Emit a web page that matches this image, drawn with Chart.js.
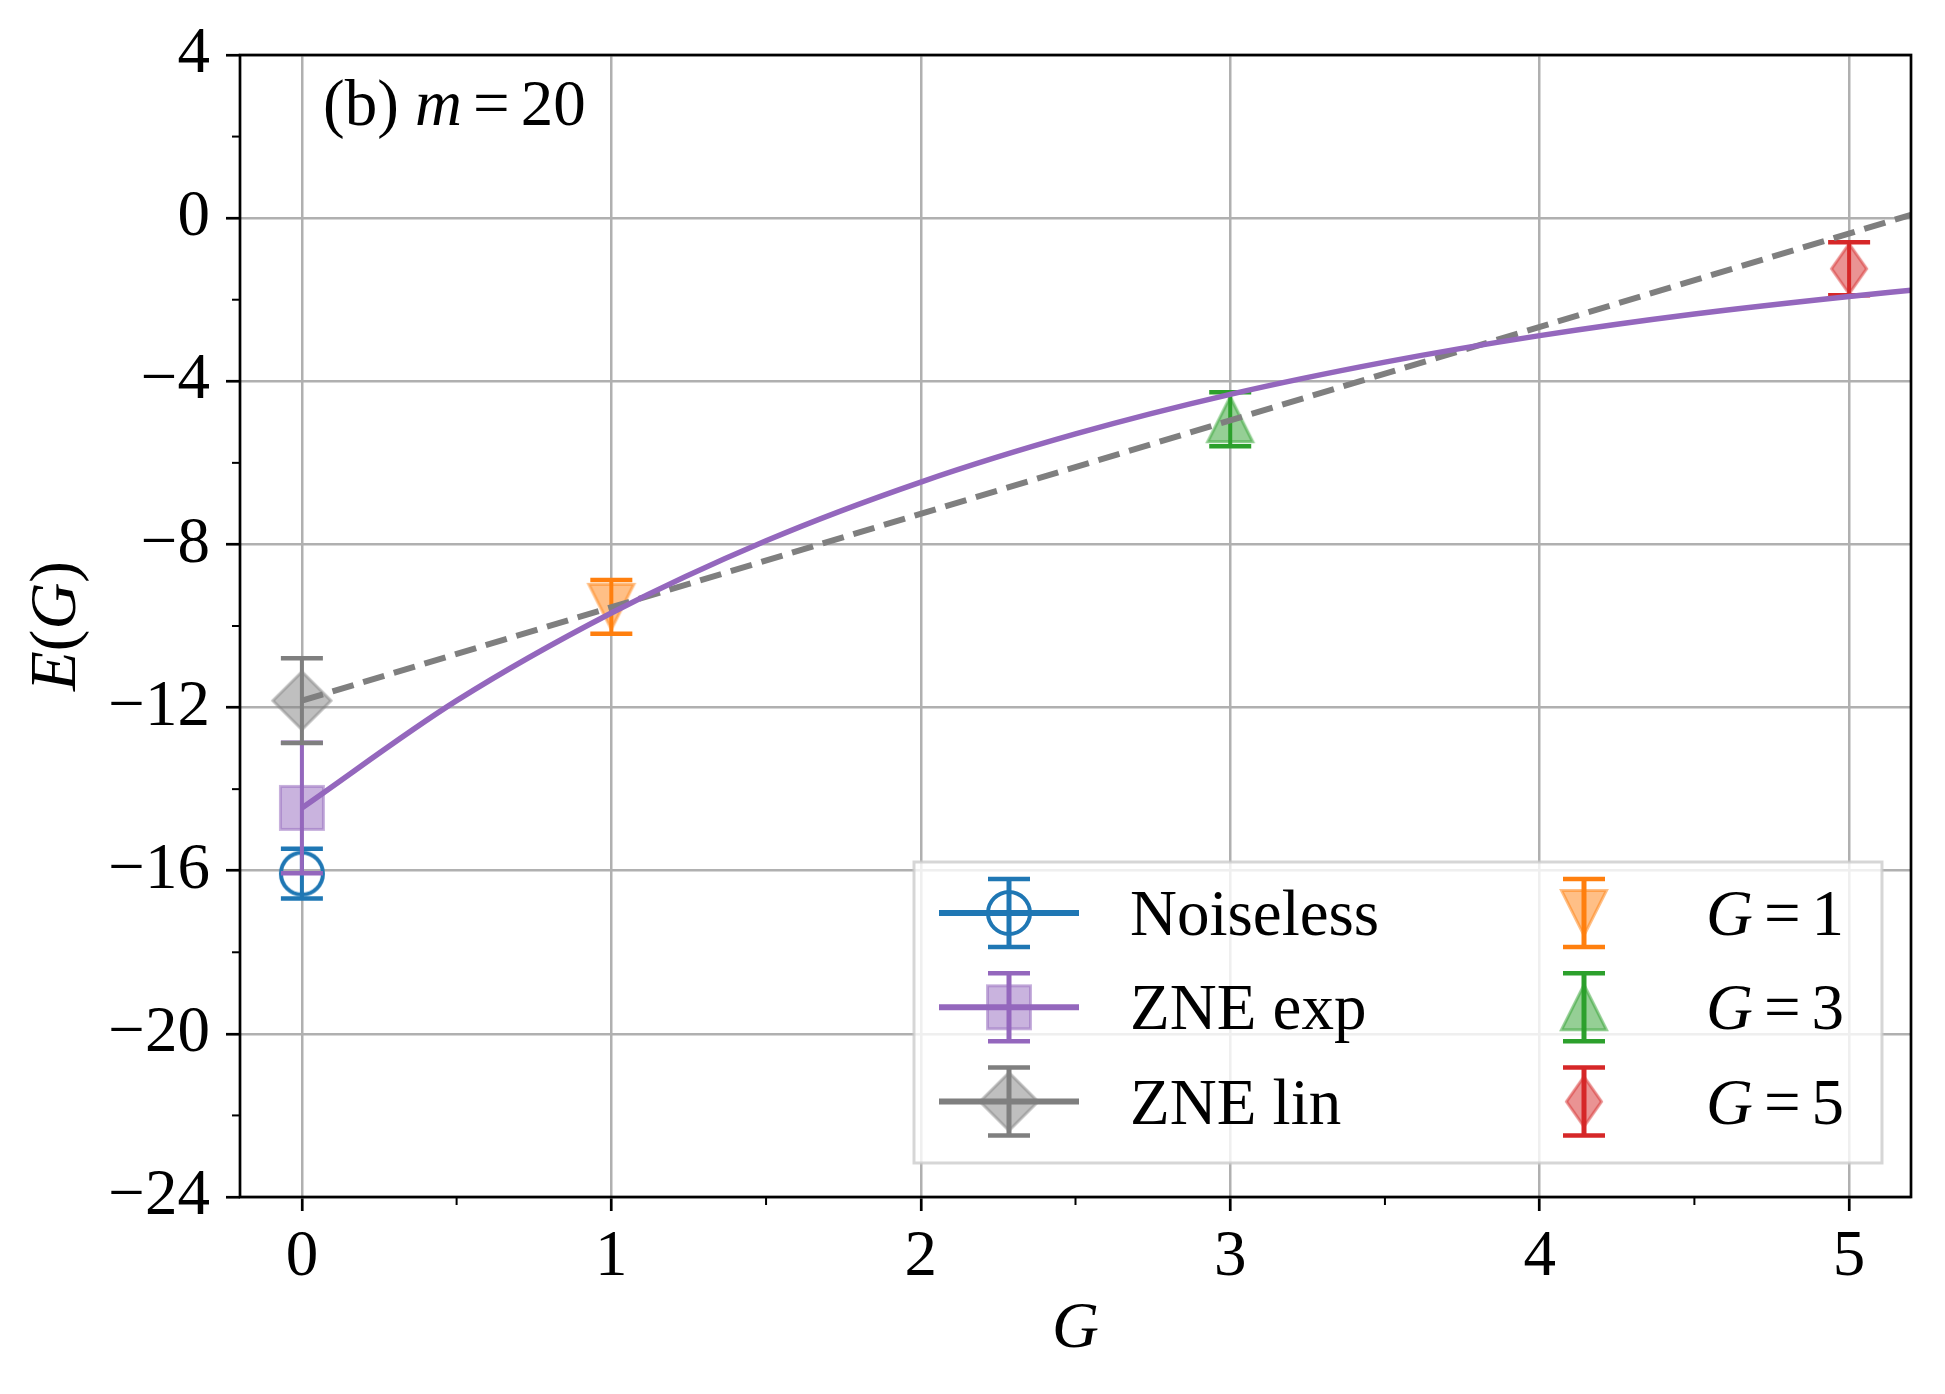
<!DOCTYPE html>
<html>
<head>
<meta charset="utf-8">
<title>ZNE m=20</title>
<script src="https://cdn.jsdelivr.net/npm/chart.js@4.4.0/dist/chart.umd.min.js"></script>
<style>
  html, body { margin: 0; padding: 0; background: #fff; }
  #wrap { width: 1945px; height: 1394px; }
</style>
</head>
<body>
<div id="wrap"><canvas id="zneChart" width="1945" height="1394"></canvas></div>
<script>
// axis ticks
const xTicks = [0, 1, 2, 3, 4, 5];
const xMinor = [0.5, 1.5, 2.5, 3.5, 4.5];
const yTicks = [-24, -20, -16, -12, -8, -4, 0, 4];
const yMinor = [-22, -18, -14, -10, -6, -2, 2];

// points: value and half error
const noiselessE = -16.07, noiselessErr = 0.61;
const zneExpE = -14.46, zneExpErr = 1.6;
const zneLinE = -11.83, zneLinErr = 1.04;
const noisyG = [1, 3, 5];
const noisyE = [-9.53, -4.93, -1.24];
const noisyErr = [0.66, 0.66, 0.65];

// fitted curves
const expFitG = [0, 0.5, 1, 1.5, 2, 2.5, 3, 3.5, 4, 4.5, 5, 5.2];
const expFitE = [-14.46, -11.83, -9.68, -7.91, -6.47, -5.29, -4.32, -3.53, -2.88, -2.35, -1.92, -1.77];
const linFitG = [0, 5.2];
const linFitE = [-11.83, 0.08];

const C = {
  blue: '#1f77b4', orange: '#ff7f0e', green: '#2ca02c',
  red: '#d62728', purple: '#9467bd', gray: '#7f7f7f',
  grid: '#b0b0b0'
};
const FONT = "'Liberation Serif', 'Times New Roman', serif";
const FS = 65;

function rgba(hex, a) {
  const n = parseInt(hex.slice(1), 16);
  return `rgba(${n >> 16},${(n >> 8) & 255},${n & 255},${a})`;
}

// marker sprites, matplotlib-like shapes
function makeMarker(shape, color, filled) {
  const c = document.createElement('canvas');
  c.width = 72; c.height = 72;
  const g = c.getContext('2d');
  g.translate(36, 36);
  g.beginPath();
  if (shape === 'circle') g.arc(0, 0, 21, 0, Math.PI * 2);
  else if (shape === 'square') g.rect(-21.5, -21.5, 43, 43);
  else if (shape === 'diamond') { g.moveTo(0, -29); g.lineTo(29, 0); g.lineTo(0, 29); g.lineTo(-29, 0); }
  else if (shape === 'triDown') { g.moveTo(-22.5, -22.5); g.lineTo(22.5, -22.5); g.lineTo(0, 22.5); }
  else if (shape === 'triUp') { g.moveTo(0, -22.5); g.lineTo(22.5, 22.5); g.lineTo(-22.5, 22.5); }
  else if (shape === 'thinDiamond') { g.moveTo(0, -25); g.lineTo(17.5, 0); g.lineTo(0, 25); g.lineTo(-17.5, 0); }
  g.closePath();
  if (filled) {
    g.fillStyle = rgba(color, 0.5); g.fill();
    g.strokeStyle = rgba(color, 0.5); g.lineWidth = 3; g.stroke();
  } else {
    g.strokeStyle = color; g.lineWidth = 4; g.stroke();
  }
  return c;
}

function pointSet(label, shape, color, filled, xs, ys, errs, order, legendLine, rich) {
  return {
    type: 'scatter',
    label: label,
    data: xs.map((x, i) => ({ x: x, y: ys[i] })),
    pointStyle: makeMarker(shape, color, filled),
    pointRadius: 20,
    showLine: false,
    order: order,
    yErr: errs,
    errColor: color,
    legendLine: legendLine,
    rich: rich
  };
}

function line(ctx, x1, y1, x2, y2) {
  ctx.beginPath(); ctx.moveTo(x1, y1); ctx.lineTo(x2, y2); ctx.stroke();
}

// text with italic pieces, '=' gets math spacing
function richWidth(ctx, pieces) {
  let w = 0;
  pieces.forEach(([t, it]) => {
    ctx.font = (it ? 'italic ' : '') + FS + 'px ' + FONT;
    w += ctx.measureText(t).width + (t === '=' ? 22 : 0);
  });
  return w;
}
function drawRich(ctx, pieces, x, y) {
  pieces.forEach(([t, it]) => {
    ctx.font = (it ? 'italic ' : '') + FS + 'px ' + FONT;
    if (t === '=') x += 11;
    ctx.fillText(t, x, y);
    x += ctx.measureText(t).width + (t === '=' ? 11 : 0);
  });
}

function drawErrorBar(ctx, px, top, bot, color, lw) {
  ctx.strokeStyle = color;
  ctx.lineWidth = lw;
  line(ctx, px, top, px, bot);
  ctx.lineWidth = 4.5;
  line(ctx, px - 21, top, px + 21, top);
  line(ctx, px - 21, bot, px + 21, bot);
}

const errorBarPlugin = {
  id: 'errorBars',
  beforeDatasetDraw(chart, args) {
    const ds = chart.data.datasets[args.index];
    if (!ds.yErr) return;
    const xs = chart.scales.x, ys = chart.scales.y, ctx = chart.ctx;
    ctx.save();
    ds.data.forEach((p, i) => {
      const px = xs.getPixelForValue(p.x);
      drawErrorBar(ctx, px, ys.getPixelForValue(p.y + ds.yErr[i]),
        ys.getPixelForValue(p.y - ds.yErr[i]), ds.errColor, 4);
    });
    ctx.restore();
  }
};

const decorPlugin = {
  id: 'decor',
  afterDatasetsDraw(chart) {
    const ctx = chart.ctx, a = chart.chartArea;
    const xs = chart.scales.x, ys = chart.scales.y;
    ctx.save();
    // minor ticks
    ctx.strokeStyle = '#000';
    ctx.lineWidth = 2;
    xMinor.forEach(v => { const px = xs.getPixelForValue(v); line(ctx, px, a.bottom, px, a.bottom + 8); });
    yMinor.forEach(v => { const py = ys.getPixelForValue(v); line(ctx, a.left - 8, py, a.left, py); });
    // frame
    ctx.lineWidth = 2.7;
    ctx.strokeRect(a.left, a.top, a.right - a.left, a.bottom - a.top);
    // texts
    ctx.fillStyle = '#000';
    ctx.textBaseline = 'alphabetic';
    ctx.textAlign = 'left';
    drawRich(ctx, [['(b) ', false], ['m', true], ['=', false], ['20', false]], a.left + 83, a.top + 70);
    const gw = richWidth(ctx, [['G', true]]);
    drawRich(ctx, [['G', true]], (a.left + a.right) / 2 - gw / 2, 1347);
    const yl = [['E', true], ['(', false], ['G', true], [')', false]];
    const yw = richWidth(ctx, yl);
    ctx.translate(75, (a.top + a.bottom) / 2);
    ctx.rotate(-Math.PI / 2);
    drawRich(ctx, yl, -yw / 2, 0);
    ctx.restore();
  },
  afterDraw(chart) {
    const ctx = chart.ctx, a = chart.chartArea;
    const left = a.left + 674, top = a.top + 807, right = a.right - 29, bottom = a.bottom - 34;
    ctx.save();
    ctx.fillStyle = 'rgba(255,255,255,0.8)';
    ctx.fillRect(left, top, right - left, bottom - top);
    ctx.strokeStyle = 'rgba(204,204,204,0.8)';
    ctx.lineWidth = 3;
    ctx.strokeRect(left, top, right - left, bottom - top);
    const entries = chart.data.datasets.filter(d => d.yErr);
    entries.forEach((ds, i) => {
      const col = i < 3 ? 0 : 1, row = i % 3;
      const cx = left + 95 + col * 575;
      const cy = top + 51 + row * 94.3;
      if (ds.legendLine) {
        ctx.strokeStyle = ds.errColor;
        ctx.lineWidth = 6;
        line(ctx, cx - 70, cy, cx + 70, cy);
      }
      drawErrorBar(ctx, cx, cy - 34, cy + 34, ds.errColor, 5);
      ctx.drawImage(ds.pointStyle, cx - ds.pointStyle.width / 2, cy - ds.pointStyle.height / 2);
      ctx.fillStyle = '#000';
      ctx.textBaseline = 'alphabetic';
      ctx.textAlign = 'left';
      drawRich(ctx, ds.rich, col === 0 ? cx + 121 : cx + 122, cy + 22);
    });
    ctx.restore();
  }
};

Chart.defaults.font.family = FONT;
Chart.defaults.color = '#000';

const datasets = [
  pointSet('Noiseless', 'circle', C.blue, false, [0], [noiselessE], [noiselessErr], 9, true, [['Noiseless', false]]),
  pointSet('ZNE exp', 'square', C.purple, true, [0], [zneExpE], [zneExpErr], 8, true, [['ZNE exp', false]]),
  pointSet('ZNE lin', 'diamond', C.gray, true, [0], [zneLinE], [zneLinErr], 7, true, [['ZNE lin', false]]),
  pointSet('G=1', 'triDown', C.orange, true, [noisyG[0]], [noisyE[0]], [noisyErr[0]], 6, false, [['G', true], ['=', false], ['1', false]]),
  pointSet('G=3', 'triUp', C.green, true, [noisyG[1]], [noisyE[1]], [noisyErr[1]], 5, false, [['G', true], ['=', false], ['3', false]]),
  pointSet('G=5', 'thinDiamond', C.red, true, [noisyG[2]], [noisyE[2]], [noisyErr[2]], 4, false, [['G', true], ['=', false], ['5', false]]),
  {
    type: 'scatter', label: 'lin fit',
    data: linFitG.map((x, i) => ({ x: x, y: linFitE[i] })),
    showLine: true, pointRadius: 0, borderColor: C.gray, borderWidth: 6,
    borderDash: [22, 10], order: 1
  },
  {
    type: 'scatter', label: 'exp fit',
    data: expFitG.map((x, i) => ({ x: x, y: expFitE[i] })),
    showLine: true, pointRadius: 0, borderColor: C.purple, borderWidth: 5.5,
    cubicInterpolationMode: 'monotone', order: 0
  }
];

new Chart(document.getElementById('zneChart'), {
  type: 'scatter',
  data: { datasets: datasets },
  plugins: [errorBarPlugin, decorPlugin],
  options: {
    responsive: false,
    animation: false,
    devicePixelRatio: 1,
    layout: { padding: { top: 53, right: 34, left: 0, bottom: 0 } },
    plugins: { legend: { display: false }, tooltip: { enabled: false } },
    scales: {
      x: {
        type: 'linear', min: -0.2, max: 5.2,
        afterBuildTicks: s => { s.ticks = xTicks.map(v => ({ value: v })); },
        afterFit: s => { s.height = 197; },
        grid: { color: C.grid, lineWidth: 2.5, tickColor: '#000', tickWidth: 2.7, tickLength: 14 },
        border: { display: false },
        ticks: { font: { size: FS }, padding: 8, maxRotation: 0, color: '#000' }
      },
      y: {
        type: 'linear', min: -24, max: 4,
        afterBuildTicks: s => { s.ticks = yTicks.map(v => ({ value: v })); },
        afterFit: s => { s.width = 240; },
        grid: { color: C.grid, lineWidth: 2.5, tickColor: '#000', tickWidth: 2.7, tickLength: 14 },
        border: { display: false },
        ticks: {
          font: { size: FS }, padding: 16, color: '#000',
          callback: v => (v < 0 ? '\u2212' + Math.abs(v) : String(v))
        }
      }
    }
  }
});
</script>
</body>
</html>
